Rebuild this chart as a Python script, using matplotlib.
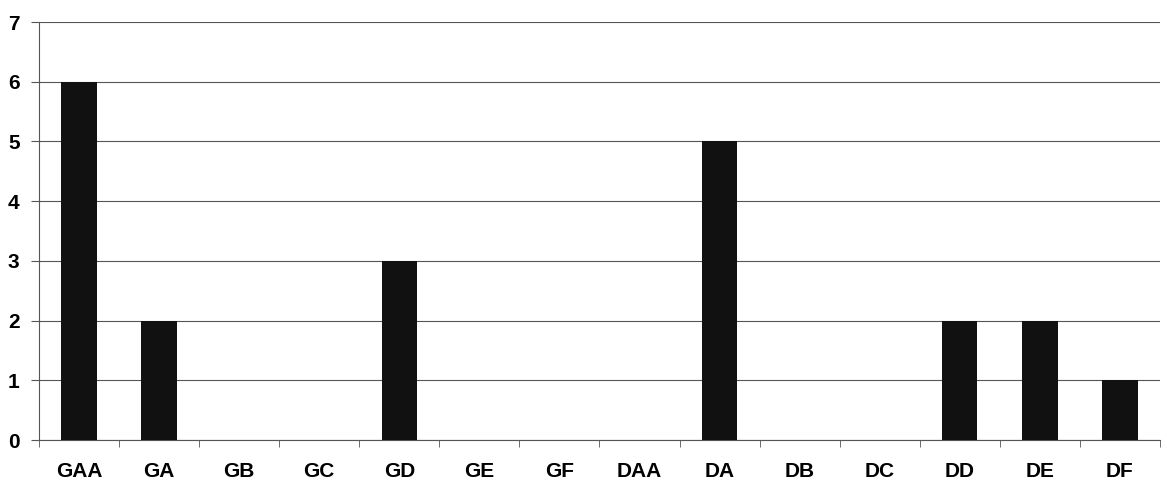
import matplotlib.pyplot as plt
import numpy as np
from matplotlib.ticker import FixedLocator

categories = ['GAA', 'GA', 'GB', 'GC', 'GD', 'GE', 'GF', 'DAA', 'DA', 'DB', 'DC', 'DD', 'DE', 'DF']
values = [6, 2, 0, 0, 3, 0, 0, 0, 5, 0, 0, 2, 2, 1]

plt.rcParams['font.family'] = ['Liberation Sans', 'DejaVu Sans']

fig = plt.figure(figsize=(11.67, 4.8), dpi=100)
ax = fig.add_axes([0.0334, 0.0833, 0.9606, 0.8707])

x = np.arange(len(categories))
ax.bar(x, values, width=0.44, color='#111111', zorder=3)

ax.set_xlim(-0.5, len(categories) - 0.5)
ax.set_ylim(0, 7)
ax.set_yticks(range(0, 8))
ax.yaxis.grid(True, color='#555555', linewidth=0.8, zorder=0)

ax.set_xticks(x)
ax.set_xticklabels(categories, fontsize=15, fontweight='bold')
ax.xaxis.set_minor_locator(FixedLocator(np.arange(-0.5, len(categories), 1.0)))
ax.tick_params(axis='x', which='major', length=0, pad=16)
ax.tick_params(axis='x', which='minor', length=5, direction='out', color='#555555')
ax.tick_params(axis='y', length=6, direction='out', color='#555555', labelsize=15, pad=8)
for lbl in ax.get_yticklabels():
    lbl.set_fontweight('bold')

for side in ['top', 'right']:
    ax.spines[side].set_visible(False)
ax.spines['left'].set_color('#555555')
ax.spines['bottom'].set_color('#555555')

fig.savefig('out.png', dpi=100)
